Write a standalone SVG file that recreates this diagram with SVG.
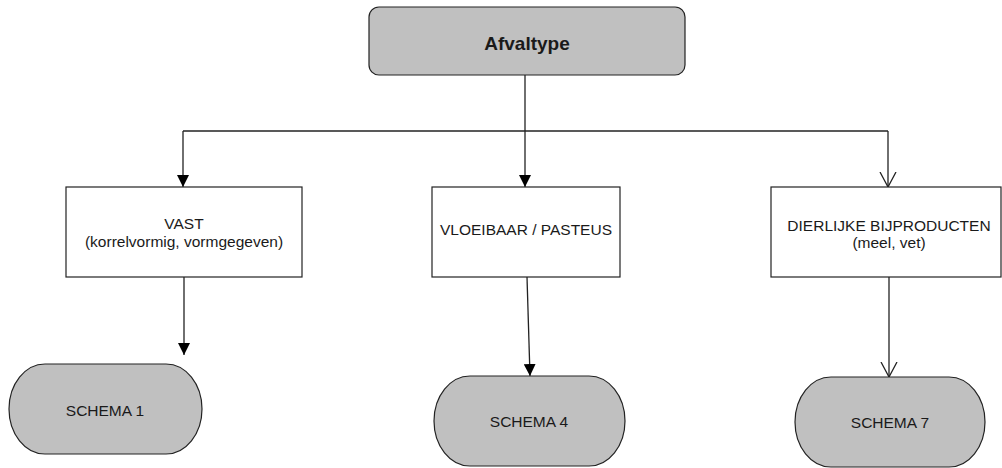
<svg xmlns="http://www.w3.org/2000/svg" width="1002" height="468" viewBox="0 0 1002 468">
<style>
text{font-family:"Liberation Sans",Arial,sans-serif;fill:#1a1a1a;text-anchor:middle;font-size:15.5px}
.box{fill:#fff;stroke:#222;stroke-width:1.2}
.grey{fill:#c0c0c0;stroke:#222;stroke-width:1.2}
.ln{fill:none;stroke:#222;stroke-width:1.3}
.title{font-weight:bold;font-size:19px}
</style>
<defs>
<marker id="tri" viewBox="0 0 12 12" refX="12" refY="6" markerWidth="12" markerHeight="12" markerUnits="userSpaceOnUse" orient="auto">
<path d="M0,0 L12,6 L0,12 Z" fill="#000"/>
</marker>
<marker id="vee" viewBox="0 0 16 18" refX="15" refY="9" markerWidth="16" markerHeight="18" markerUnits="userSpaceOnUse" orient="auto">
<path d="M0,1 L15,9 L0,17" fill="none" stroke="#222" stroke-width="1.3"/>
</marker>
</defs>
<g id="connectors">
<path class="ln" d="M525,75 V131"/>
<path class="ln" d="M183,131 H888"/>
<path class="ln" d="M183,131 V187" marker-end="url(#tri)"/>
<path class="ln" d="M525,131 V187" marker-end="url(#tri)"/>
<path class="ln" d="M888,131 V187" marker-end="url(#vee)"/>
<path class="ln" d="M184,277 V355" marker-end="url(#tri)"/>
<path class="ln" d="M527,277 L530,376" marker-end="url(#tri)"/>
<path class="ln" d="M889,277 V377" marker-end="url(#vee)"/>
</g>
<g id="afvaltype">
<rect class="grey" x="369" y="7" width="316" height="68" rx="10"/>
<text class="title" x="527" y="50">Afvaltype</text>
</g>
<g id="vast">
<rect class="box" x="66" y="187" width="236" height="90"/>
<text x="184" y="229">VAST</text>
<text x="184" y="247">(korrelvormig, vormgegeven)</text>
</g>
<g id="vloeibaar">
<rect class="box" x="432" y="187" width="188" height="90"/>
<text x="526" y="235">VLOEIBAAR / PASTEUS</text>
</g>
<g id="dierlijk">
<rect class="box" x="771" y="187" width="230" height="90"/>
<text x="889" y="231">DIERLIJKE BIJPRODUCTEN</text>
<text x="889" y="248">(meel, vet)</text>
</g>
<g id="schema1">
<rect class="grey" x="9" y="364" width="193" height="90" rx="36" ry="45"/>
<text x="105" y="416">SCHEMA 1</text>
</g>
<g id="schema4">
<rect class="grey" x="434" y="376" width="191" height="90" rx="36" ry="45"/>
<text x="529" y="427">SCHEMA 4</text>
</g>
<g id="schema7">
<rect class="grey" x="795" y="377" width="190" height="90" rx="36" ry="45"/>
<text x="890" y="428">SCHEMA 7</text>
</g>
</svg>
